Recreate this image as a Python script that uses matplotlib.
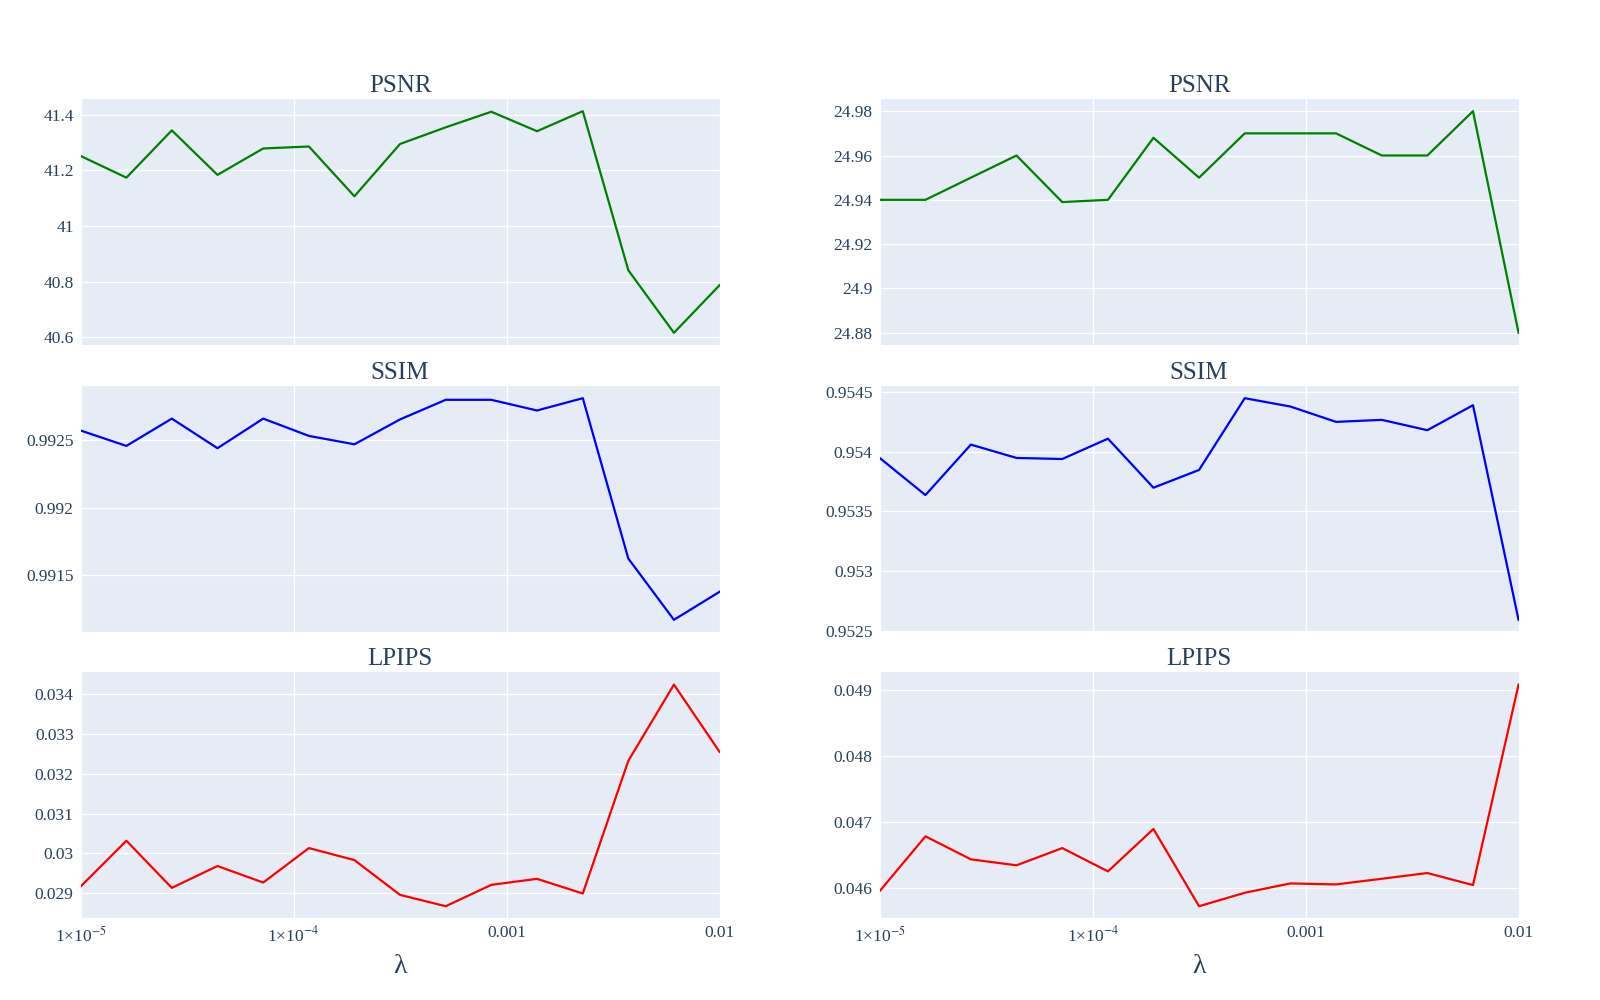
import numpy as np
import matplotlib.pyplot as plt
from matplotlib.ticker import MultipleLocator, FuncFormatter, FixedLocator

# valores de lambda (eixo x, escala log)
lambdas = [1.0e-5, 1.64e-5, 2.68e-5, 4.39e-5, 7.20e-5, 1.18e-4, 1.93e-4, 3.16e-4,
           5.18e-4, 8.48e-4, 1.39e-3, 2.28e-3, 3.73e-3, 6.11e-3, 1.0e-2]

# coluna da esquerda
psnr_a = [41.252, 41.174, 41.344, 41.184, 41.279, 41.286, 41.107, 41.295,
          41.355, 41.411, 41.341, 41.413, 40.841, 40.616, 40.787]
ssim_a = [0.992572, 0.992458, 0.992660, 0.992441, 0.992660, 0.992532, 0.992470, 0.992654,
          0.992799, 0.992799, 0.992720, 0.992811, 0.991625, 0.991172, 0.991379]
lpips_a = [0.029168, 0.030319, 0.029134, 0.029683, 0.029268, 0.030134, 0.029832, 0.028958,
           0.028673, 0.029210, 0.029361, 0.028992, 0.032327, 0.034243, 0.032554]

# coluna da direita
psnr_b = [24.94, 24.94, 24.95, 24.96, 24.939, 24.94, 24.968, 24.95,
          24.97, 24.97, 24.97, 24.96, 24.96, 24.98, 24.88]
ssim_b = [0.953950, 0.953638, 0.954062, 0.953950, 0.953941, 0.954112, 0.953700, 0.953849,
          0.954452, 0.954382, 0.954253, 0.954270, 0.954183, 0.954393, 0.952590]
lpips_b = [0.045949, 0.046781, 0.046432, 0.046341, 0.046603, 0.046249, 0.046893, 0.045720,
           0.045924, 0.046066, 0.046051, 0.046137, 0.046224, 0.046041, 0.049086]

titles = ['PSNR', 'SSIM', 'LPIPS']
colors = ['#008000', '#0000ff', '#ff0000']
steps_a = [0.2, 0.0005, 0.001]
steps_b = [0.02, 0.0005, 0.001]

xticks = [1e-5, 1e-4, 1e-3, 1e-2]
xticklabels = [r'1×10$^{-5}$', r'1×10$^{-4}$', '0.001', '0.01']

plt.rcParams['font.family'] = ['Liberation Serif', 'DejaVu Serif']
plt.rcParams['mathtext.fontset'] = 'stix'
txt = '#2a3f5f'


def fmt(v, pos):
    s = f'{v:.6f}'.rstrip('0').rstrip('.')
    return s


fig = plt.figure(figsize=(16, 10), dpi=100)

lefts = [0.0504, 0.5498]
bottoms = [0.655, 0.368, 0.0816]
w, h = 0.3993, 0.246

columns = [([psnr_a, ssim_a, lpips_a], steps_a), ([psnr_b, ssim_b, lpips_b], steps_b)]

for c, (series, steps) in enumerate(columns):
    for r in range(3):
        ax = fig.add_axes([lefts[c], bottoms[r], w, h])
        ax.set_facecolor('#E5ECF6')
        ax.plot(lambdas, series[r], color=colors[r], lw=1.6)
        ax.set_xscale('log')
        ax.set_xlim(1e-5, 1e-2)
        ax.margins(x=0, y=0.055)
        ax.xaxis.set_major_locator(FixedLocator(xticks))
        ax.xaxis.set_minor_locator(FixedLocator([]))
        ax.yaxis.set_major_locator(MultipleLocator(steps[r]))
        ax.yaxis.set_major_formatter(FuncFormatter(fmt))
        ax.grid(True, color='white', lw=1)
        ax.set_axisbelow(True)
        for s in ax.spines.values():
            s.set_visible(False)
        ax.tick_params(length=0, labelsize=12.5, colors=txt, pad=5)
        ax.set_title(titles[r], fontsize=18, color=txt, pad=5)
        if r == 2:
            ax.set_xticklabels(xticklabels)
            ax.set_xlabel('λ', fontsize=20, color=txt, labelpad=6)
        else:
            ax.set_xticklabels([])

plt.savefig('out.png')
